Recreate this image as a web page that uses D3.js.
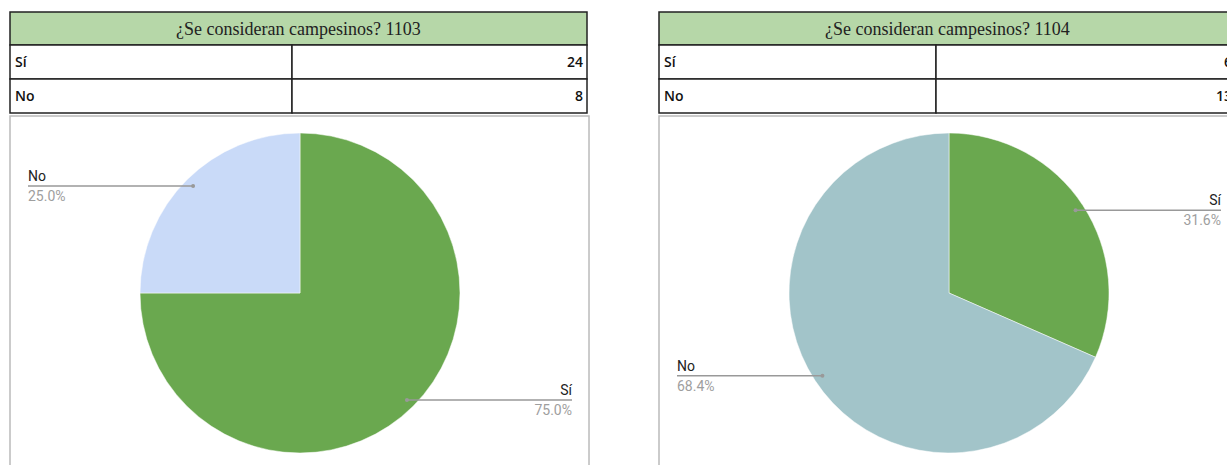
<!DOCTYPE html>
<html>
<head>
<meta charset="utf-8">
<script src="https://cdn.jsdelivr.net/npm/d3@7"></script>
<style>
  body { margin: 0; background: #fff; }
  svg { display: block; }
</style>
</head>
<body>
<div id="chart"></div>
<script>
var width = 1227, height = 465;

// data
var categories = ["Sí", "No"];
var groups = ["1103", "1104"];
var values1103 = [24, 8];
var values1104 = [6, 13];
var colors1103 = ["#6aa84f", "#c9daf8"];
var colors1104 = ["#6aa84f", "#a2c4c9"];

var panels = [
    { code: groups[0], values: values1103, colors: colors1103, x: 10, split: 282 },
    { code: groups[1], values: values1104, colors: colors1104, x: 659, split: 277 }
];

var svg = d3.select("#chart").append("svg")
    .attr("width", width)
    .attr("height", height);

var tableW = 577, headH = 33, rowH = 34;
var radius = 160;

var pie = d3.pie().sort(null).value(function (d) { return d; });
var arc = d3.arc().innerRadius(0).outerRadius(radius);
var pct = d3.format(".1%");

panels.forEach(function (p) {
    var g = svg.append("g").attr("transform", "translate(" + p.x + ",0)");

    // table
    g.append("rect")
        .attr("x", 0).attr("y", 12)
        .attr("width", tableW).attr("height", headH)
        .attr("fill", "#b6d7a8")
        .attr("stroke", "#222").attr("stroke-width", 1.5);

    g.append("text")
        .attr("x", tableW / 2).attr("y", 12 + headH / 2 + 6)
        .attr("text-anchor", "middle")
        .attr("font-family", "Liberation Serif, Times New Roman, serif")
        .attr("font-size", 18)
        .attr("fill", "#222")
        .text("¿Se consideran campesinos? " + p.code);

    categories.forEach(function (c, i) {
        var y = 12 + headH + i * rowH;
        g.append("rect")
            .attr("x", 0).attr("y", y)
            .attr("width", p.split).attr("height", rowH)
            .attr("fill", "#fff").attr("stroke", "#222").attr("stroke-width", 1.5);
        g.append("rect")
            .attr("x", p.split).attr("y", y)
            .attr("width", tableW - p.split).attr("height", rowH)
            .attr("fill", "#fff").attr("stroke", "#222").attr("stroke-width", 1.5);
        g.append("text")
            .attr("x", 5).attr("y", y + rowH / 2 + 5)
            .attr("font-family", "Open Sans, sans-serif")
            .attr("font-size", 14).attr("font-weight", 600)
            .attr("fill", "#111")
            .text(c);
        g.append("text")
            .attr("x", tableW - 4).attr("y", y + rowH / 2 + 5)
            .attr("text-anchor", "end")
            .attr("font-family", "Open Sans, sans-serif")
            .attr("font-size", 14).attr("font-weight", 600)
            .attr("fill", "#111")
            .text(p.values[i]);
    });

    // chart box
    g.append("rect")
        .attr("x", 0).attr("y", 116)
        .attr("width", 579).attr("height", 360)
        .attr("fill", "#fff")
        .attr("stroke", "#bbb").attr("stroke-width", 1.5);

    var cx = 290, cy = 293;
    var total = d3.sum(p.values);
    var arcs = pie(p.values);

    var pg = g.append("g").attr("transform", "translate(" + cx + "," + cy + ")");
    pg.selectAll("path")
        .data(arcs)
        .enter().append("path")
        .attr("d", arc)
        .attr("fill", function (d, i) { return p.colors[i]; })
        .attr("stroke", "#fff").attr("stroke-width", 0.5);

    // leader labels
    arcs.forEach(function (d, i) {
        var a = (d.startAngle + d.endAngle) / 2;
        var r = radius * 0.945;
        var dx = cx + Math.sin(a) * r;
        var dy = cy - Math.cos(a) * r;
        var right = Math.sin(a) > 0;
        var lx = right ? 562 : 18;
        var lab = g.append("g");
        lab.append("line")
            .attr("x1", dx).attr("y1", dy)
            .attr("x2", lx).attr("y2", dy)
            .attr("stroke", "#999").attr("stroke-width", 1.5);
        lab.append("circle")
            .attr("cx", dx).attr("cy", dy).attr("r", 2)
            .attr("fill", "#999");
        lab.append("text")
            .attr("x", lx).attr("y", dy - 5)
            .attr("text-anchor", right ? "end" : "start")
            .attr("font-family", "Roboto, Arial, sans-serif")
            .attr("font-size", 14)
            .attr("fill", "#222")
            .text(categories[i]);
        lab.append("text")
            .attr("x", lx).attr("y", dy + 15)
            .attr("text-anchor", right ? "end" : "start")
            .attr("font-family", "Roboto, Arial, sans-serif")
            .attr("font-size", 14)
            .attr("fill", "#9e9e9e")
            .text(pct(d.data / total));
    });
});
</script>
</body>
</html>
